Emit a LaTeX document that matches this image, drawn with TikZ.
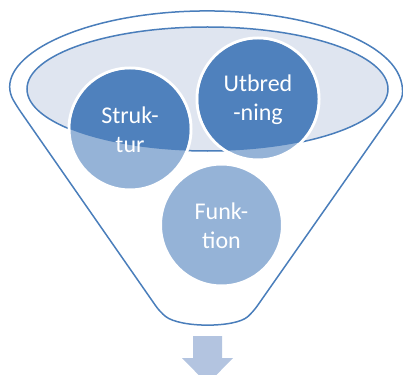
\documentclass[tikz,border=0pt]{standalone}
\usepackage{fontspec}
\setmainfont{Carlito}
\definecolor{darkb}{HTML}{4F81BD}
\definecolor{lightb}{HTML}{95B3D7}
\definecolor{ellfill}{HTML}{DFE5F0}
\definecolor{linec}{HTML}{4A7EBB}
\definecolor{arrowc}{HTML}{B3C4E0}
\begin{document}
\begin{tikzpicture}[x=1pt,y=-1pt,
  outline/.style={draw=linec,line width=1.5pt},
  bubble/.style={fill=lightb,draw=white,line width=3pt},
  label/.style={text=white,font=\fontsize{24}{29}\selectfont,align=center,inner sep=0pt}]
\useasboundingbox (0,0) rectangle (403,374);
\clip (0,0) rectangle (403,374);
% funnel
\draw[outline,rounded corners=7pt] (17,106.5) arc[start angle=167,end angle=373,x radius=195,y radius=78]
  -- (253,312) .. controls (235,328) and (180,328) .. (160,312) -- cycle;
% inner ellipse
\fill[ellfill] (207.5,89) ellipse[x radius=180.5,y radius=62];
\draw[outline] (207.5,89) ellipse[x radius=180.5,y radius=62];
% circles
\coordinate (cs) at (130,129);
\coordinate (cu) at (258,99);
\coordinate (cf) at (221.5,225);
\draw[bubble] (cf) circle[radius=61];
\draw[bubble] (cs) circle[radius=61];
\draw[bubble] (cu) circle[radius=61];
\begin{scope}
\clip (207.5,89) ellipse[x radius=180.5,y radius=62];
\fill[darkb] (cs) circle[radius=59.5];
\fill[darkb] (cu) circle[radius=59.5];
\end{scope}
\node[label] (ts) at (130,130) {Struk-\\tur};
\node[label] (tu) at (258,100) {Utbred\\-ning};
\node[label] (tf) at (221.5,226) {Funk-\\tion};
% arrow
\fill[arrowc] (193,336) -- (222,336) -- (222,358) -- (233,358) -- (207.5,384) -- (182,358) -- (193,358) -- cycle;
\end{tikzpicture}
\end{document}
